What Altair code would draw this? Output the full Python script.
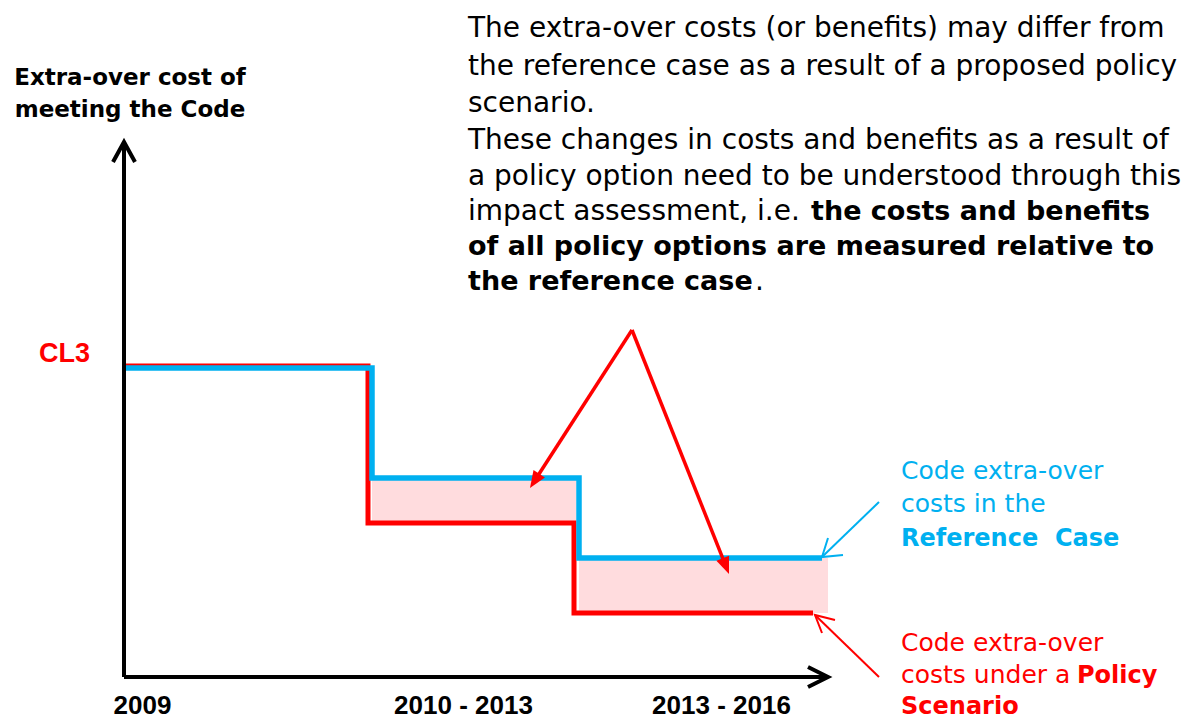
import altair as alt
import numpy as np
import pandas as pd

# ---------------------------------------------------------------
# Diagram units: x = distance to the right of the vertical axis,
# y = height above the time axis
# ---------------------------------------------------------------
X_DOMAIN = [-116, 1059]
Y_DOMAIN = [-42, 669]

# Step lines: extra-over cost of meeting the Code
ref_x = [0, 248, 455, 698]          # Reference case
ref_y = [309, 199, 119, 119]
pol_x = [0, 244, 450, 689]          # Policy scenario
pol_y = [311, 154, 64, 64]

# Shaded difference between the two cases
gap_x1 = [248, 455]
gap_x2 = [452, 704]
gap_y1 = [154, 64]
gap_y2 = [199, 119]

# Axis polylines (line + open arrow heads)
axis_id = ["yaxis", "yaxis", "yhead", "yhead", "yhead",
           "xaxis", "xaxis", "xhead", "xhead", "xhead"]
axis_x = [0, 0, -11, 0, 11, 0, 704, 684, 704, 684]
axis_y = [0, 535, 515, 535, 515, 0, 0, 10, 0, -10]

# Thick red pointers from the note to the two shaded gaps
apex = (508, 347)
tip_x = [406, 605]
tip_y = [189, 103]

# Thin pointers to the legend texts
thin_id = ["ref", "ref", "refh", "refh", "refh",
           "pol", "pol", "polh", "polh", "polh"]
thin_x = [755, 698, 704, 698, 719, 755, 691, 711, 691, 698]
thin_y = [175, 120, 139, 120, 122, 0, 62, 57, 62, 44]
thin_color = ["#00B0F0"] * 5 + ["#FF0000"] * 5

# Note text (top right)
note_text = [
    "The extra-over costs (or benefits) may differ from",
    "the reference case as a result of a proposed policy",
    "scenario.",
    "These changes in costs and benefits as a result of",
    "a policy option need to be understood through this",
    "impact assessment, i.e.",
    "the costs and benefits",
    "of all policy options are measured relative to",
    "the reference case",
    ".",
]
note_x = [344, 344, 344, 344, 344, 344, 687, 344, 344, 631]
note_y = [640, 602, 565, 528, 492, 457, 457, 422, 387, 387]
note_bold = [False, False, False, False, False, False, True, True, True, False]

# Legend texts (right)
leg_text = ["Code extra-over", "costs in the", "Reference\u00a0 Case",
            "Code extra-over", "costs under a", "Policy", "Scenario"]
leg_x = [777, 777, 777, 777, 777, 953, 777]
leg_y = [198, 165, 131, 26, -6, -6, -37]
leg_bold = [False, False, True, False, False, True, True]
leg_color = ["#00B0F0", "#00B0F0", "#00B0F0",
             "#FF0000", "#FF0000", "#FF0000", "#FF0000"]

# Axis labels
ylab_text = ["Extra-over cost of", "meeting the Code"]
ylab_x = [6, 6]
ylab_y = [592, 560]

period_text = ["2009", "2010 - 2013", "2013 - 2016"]
period_x = [18.5, 339.5, 597.5]
period_y = [-37, -37, -37]

level_text = ["CL3"]
level_x = [-85]
level_y = [315]

# ---------------------------------------------------------------
xs = alt.Scale(domain=X_DOMAIN, nice=False, zero=False)
ys = alt.Scale(domain=Y_DOMAIN, nice=False, zero=False)


def X(f="x"):
    return alt.X(f"{f}:Q", scale=xs, axis=None)


def Y(f="y"):
    return alt.Y(f"{f}:Q", scale=ys, axis=None)


gaps = pd.DataFrame({"x1": gap_x1, "x2": gap_x2, "y1": gap_y1, "y2": gap_y2})
gap_layer = alt.Chart(gaps).mark_rect(color="#FFDCDE").encode(
    x=X("x1"), x2="x2", y=Y("y1"), y2="y2")

steps = pd.DataFrame({
    "x": pol_x + ref_x,
    "y": pol_y + ref_y,
    "case": ["Policy"] * len(pol_x) + ["Reference"] * len(ref_x),
    "o": list(range(len(pol_x))) + list(range(len(ref_x))),
})
pol_layer = alt.Chart(steps).transform_filter(alt.datum.case == "Policy").mark_line(
    interpolate="step-after", color="#FF0000", strokeWidth=5, strokeJoin="miter"
).encode(x=X(), y=Y(), order="o:Q")
ref_layer = alt.Chart(steps).transform_filter(alt.datum.case == "Reference").mark_line(
    interpolate="step-after", color="#00B0F0", strokeWidth=5.5, strokeJoin="miter"
).encode(x=X(), y=Y(), order="o:Q")

axes = pd.DataFrame({"id": axis_id, "x": axis_x, "y": axis_y,
                     "o": list(range(len(axis_x)))})
axis_layer = alt.Chart(axes).mark_line(
    color="black", strokeWidth=4, strokeJoin="miter", strokeCap="butt"
).encode(x=X(), y=Y(), detail="id:N", order="o:Q")

# thick pointers: line from apex to the base of each arrow head
HEAD = 17.0
rows = []
heads = []
for i, (tx, ty) in enumerate(zip(tip_x, tip_y)):
    dx, dy = tx - apex[0], ty - apex[1]
    L = np.hypot(dx, dy)
    ex, ey = tx - dx / L * HEAD * 0.8, ty - dy / L * HEAD * 0.8
    rows += [{"id": i, "o": 0, "x": apex[0], "y": apex[1]},
             {"id": i, "o": 1, "x": ex, "y": ey}]
    ang = np.degrees(np.arctan2(dx, dy)) % 360
    heads.append({"x": tx, "y": ty, "angle": ang})
ptr = pd.DataFrame(rows)
ptr_layer = alt.Chart(ptr).mark_line(
    color="#FF0000", strokeWidth=3.5, strokeJoin="miter"
).encode(x=X(), y=Y(), detail="id:N", order="o:Q")

head_df = pd.DataFrame(heads)
head_layer = alt.Chart(head_df).mark_point(
    shape="M0,0 L-0.8,2 L0.8,2 Z", filled=True, size=HEAD ** 2,
    color="#FF0000", opacity=1, strokeWidth=0
).encode(x=X(), y=Y(), angle=alt.Angle("angle:Q", scale=None))

thin = pd.DataFrame({"id": thin_id, "x": thin_x, "y": thin_y, "c": thin_color,
                     "o": list(range(len(thin_x)))})
thin_layer = alt.Chart(thin).mark_line(strokeWidth=2).encode(
    x=X(), y=Y(), detail="id:N", order="o:Q", color=alt.Color("c:N", scale=None))

note = pd.DataFrame({"x": note_x, "y": note_y, "t": note_text, "b": note_bold})
note_norm = alt.Chart(note).transform_filter(~alt.datum.b).mark_text(
    align="left", baseline="alphabetic", font="DejaVu Sans", fontSize=28, color="black"
).encode(x=X(), y=Y(), text="t:N")
note_bld = alt.Chart(note).transform_filter(alt.datum.b).mark_text(
    align="left", baseline="alphabetic", font="DejaVu Sans", fontWeight="bold",
    fontSize=27, color="black"
).encode(x=X(), y=Y(), text="t:N")

leg = pd.DataFrame({"x": leg_x, "y": leg_y, "t": leg_text, "b": leg_bold, "c": leg_color})
leg_norm = alt.Chart(leg).transform_filter(~alt.datum.b).mark_text(
    align="left", baseline="alphabetic", font="DejaVu Sans", fontSize=25
).encode(x=X(), y=Y(), text="t:N", color=alt.Color("c:N", scale=None))
leg_bld = alt.Chart(leg).transform_filter(alt.datum.b).mark_text(
    align="left", baseline="alphabetic", font="DejaVu Sans", fontWeight="bold", fontSize=24
).encode(x=X(), y=Y(), text="t:N", color=alt.Color("c:N", scale=None))

ylab = pd.DataFrame({"x": ylab_x, "y": ylab_y, "t": ylab_text})
ylab_layer = alt.Chart(ylab).mark_text(
    align="center", baseline="alphabetic", font="DejaVu Sans", fontWeight="bold",
    fontSize=23, color="black"
).encode(x=X(), y=Y(), text="t:N")

per = pd.DataFrame({"x": period_x, "y": period_y, "t": period_text})
per_layer = alt.Chart(per).mark_text(
    align="center", baseline="alphabetic", font="Liberation Sans", fontWeight="bold",
    fontSize=26, color="black"
).encode(x=X(), y=Y(), text="t:N")

lvl = pd.DataFrame({"x": level_x, "y": level_y, "t": level_text})
lvl_layer = alt.Chart(lvl).mark_text(
    align="left", baseline="alphabetic", font="Liberation Sans", fontWeight="bold",
    fontSize=27, color="#FF0000"
).encode(x=X(), y=Y(), text="t:N")

chart = alt.layer(
    gap_layer, pol_layer, ref_layer, axis_layer, ptr_layer, head_layer, thin_layer,
    note_norm, note_bld, leg_norm, leg_bld, ylab_layer, per_layer, lvl_layer
).properties(
    width=1175, height=711, autosize=alt.AutoSizeParams(type="none"), padding=0
).configure_view(stroke=None)

chart.save("out.html", embed_options={"renderer": "svg", "actions": False})
